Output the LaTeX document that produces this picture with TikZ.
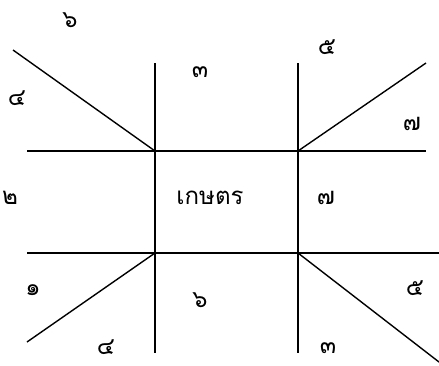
\documentclass[tikz,border=0pt]{standalone}
\usepackage{fontspec}
\newfontfamily\thaifont[Script=Thai]{Loma}
\usepackage{tikz}

\begin{document}
\begin{tikzpicture}[
    x=1pt, y=-1pt,
    gridln/.style  = {draw=black, line width=1.6pt},
    diagln/.style  = {draw=black, line width=1.4pt},
    numlbl/.style  = {font=\thaifont\fontsize{24}{28}\selectfont, inner sep=0pt},
    centrelbl/.style = {font=\thaifont\fontsize{24}{28}\selectfont, inner sep=0pt}
  ]
  \useasboundingbox (0,0) rectangle (439,365);

  %% corners of the middle box
  \coordinate (boxNW) at (155,151);
  \coordinate (boxNE) at (298,151);
  \coordinate (boxSW) at (155,253);
  \coordinate (boxSE) at (298,253);

  %% free ends of the grid lines
  \coordinate (vlTop)  at (155,63);
  \coordinate (vlBot)  at (155,353);
  \coordinate (vrTop)  at (298,63);
  \coordinate (vrBot)  at (298,353);
  \coordinate (htLeft) at (27,151);
  \coordinate (htRight) at (426,151);
  \coordinate (hbLeft) at (27,253);
  \coordinate (hbRight) at (439,253);

  %% free ends of the corner diagonals
  \coordinate (dNW) at (13,50);
  \coordinate (dNE) at (426,63);
  \coordinate (dSW) at (27,342);
  \coordinate (dSE) at (439,362);

  \draw[gridln] (vlTop) -- (vlBot);
  \draw[gridln] (vrTop) -- (vrBot);
  \draw[gridln] (htLeft) -- (htRight);
  \draw[gridln] (hbLeft) -- (hbRight);

  \draw[diagln] (dNW) -- (boxNW);
  \draw[diagln] (boxNE) -- (dNE);
  \draw[diagln] (dSW) -- (boxSW);
  \draw[diagln] (boxSE) -- (dSE);

  %% labels round the board
  \node[centrelbl] (centre) at (210,198) {เกษตร};
  \node[numlbl] (topA)   at (70,20)   {๖};
  \node[numlbl] (topB)   at (200,72)  {๓};
  \node[numlbl] (topC)   at (327,47)  {๕};
  \node[numlbl] (leftA)  at (17,98)   {๔};
  \node[numlbl] (rightA) at (412,124) {๗};
  \node[numlbl] (leftB)  at (10,198)  {๒};
  \node[numlbl] (rightB) at (326,198) {๗};
  \node[numlbl] (leftC)  at (33,290)  {๑};
  \node[numlbl] (rightC) at (415,288) {๕};
  \node[numlbl] (botA)   at (200,300) {๖};
  \node[numlbl] (botB)   at (106,347) {๔};
  \node[numlbl] (botC)   at (328,348) {๓};
\end{tikzpicture}
\end{document}
